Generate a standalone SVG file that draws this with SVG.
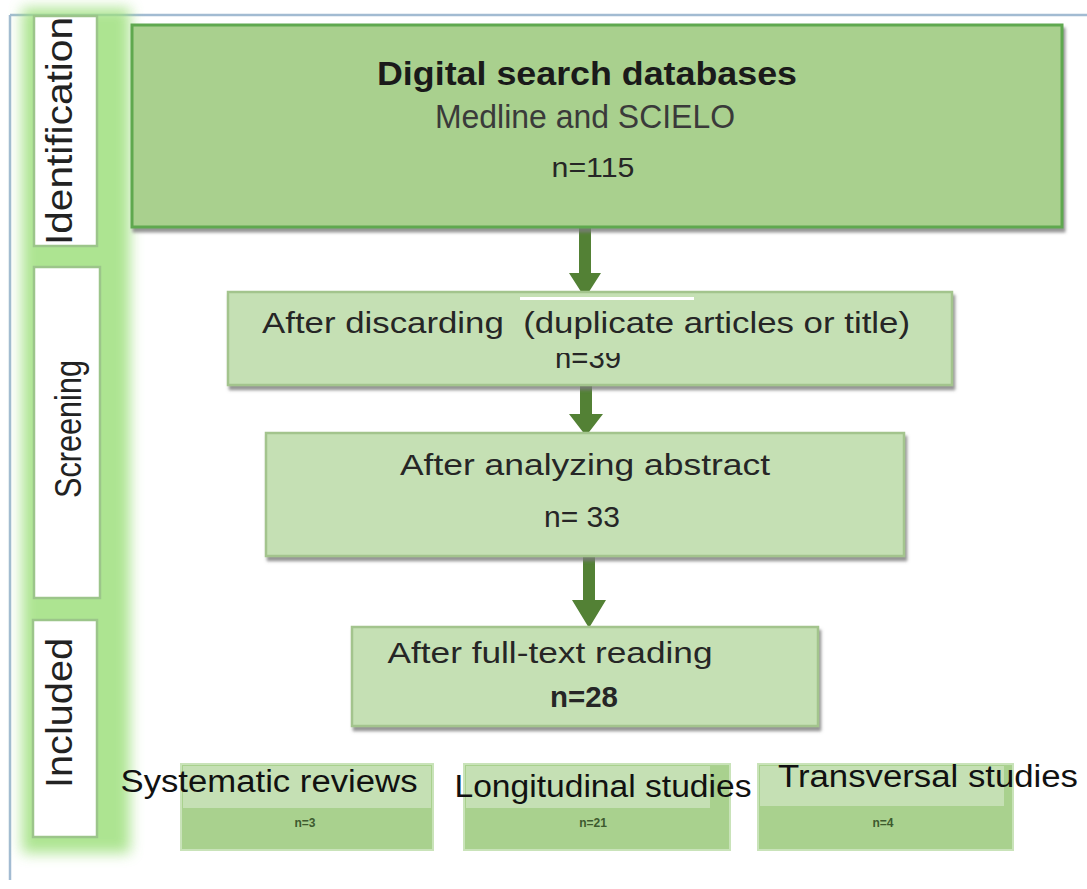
<svg xmlns="http://www.w3.org/2000/svg" width="1087" height="889" viewBox="0 0 1087 889">
<defs>
<filter id="sh" x="-5%" y="-10%" width="115%" height="130%">
<feDropShadow dx="2" dy="4" stdDeviation="1.5" flood-color="#7a7a7a" flood-opacity="0.8"/>
</filter>
<filter id="glow" x="-30%" y="-10%" width="160%" height="120%">
<feGaussianBlur stdDeviation="7"/>
</filter>
<clipPath id="clip39"><rect x="540" y="353" width="100" height="30"/></clipPath>
</defs>
<style>
text{font-family:"Liberation Sans",Arial,sans-serif;}
.side{fill:#ffffff;stroke:#9cc58a;stroke-width:2.5;}
.sideT{font-size:37px;fill:#222;text-anchor:middle;}
.main{fill:#c5e0b4;stroke:#a3c48d;stroke-width:2.5;filter:url(#sh);}
.t{font-size:29px;fill:#262626;text-anchor:middle;}
.arrow{fill:#538135;}
.sub{fill:#a9d18e;stroke:#c9e3b9;stroke-width:2;}
.band{fill:#c5e0b4;}
.st{font-size:31px;fill:#111;text-anchor:middle;}
.n{font-size:12px;fill:#3d5a2e;text-anchor:middle;font-weight:bold;}
</style>
<rect width="1087" height="889" fill="#ffffff"/>
<g id="frame">
<line x1="10" y1="15" x2="1087" y2="15" stroke="#a2bbd2" stroke-width="2.5"/>
<line x1="10" y1="15" x2="10" y2="880" stroke="#a2bbd2" stroke-width="2.5"/>
</g>
<g id="sidebar">
<rect x="22" y="8" width="108" height="845" fill="#9fe07e" filter="url(#glow)" opacity="0.85"/>
<g id="identification">
<rect class="side" x="34" y="16" width="63" height="230"/>
<text class="sideT" transform="translate(72,131) rotate(-90)" textLength="228" lengthAdjust="spacingAndGlyphs">Identification</text>
</g>
<g id="screening">
<rect class="side" x="34" y="267" width="66" height="331"/>
<text class="sideT" transform="translate(81,429) rotate(-90)" textLength="138" lengthAdjust="spacingAndGlyphs">Screening</text>
</g>
<g id="included">
<rect class="side" x="33" y="620" width="64" height="217"/>
<text class="sideT" transform="translate(72,713) rotate(-90)" textLength="150" lengthAdjust="spacingAndGlyphs">Included</text>
</g>
</g>
<g id="connectors">
<polygon class="arrow" points="579,226 591,226 591,273 601,273 585,298 569,273 579,273"/>
<polygon class="arrow" points="580,385 592,385 592,414 603,414 586,436 569,414 580,414"/>
<polygon class="arrow" points="583,556 595,556 595,600 606,600 589,628 572,600 583,600"/>
</g>
<g id="n-databases">
<rect x="132" y="25" width="930" height="202" fill="#a9d08e" stroke="#5ea84f" stroke-width="3" filter="url(#sh)"/>
<text x="587" y="85" font-size="34" font-weight="bold" fill="#1a1a1a" text-anchor="middle" textLength="420" lengthAdjust="spacingAndGlyphs">Digital search databases</text>
<text x="585" y="128" font-size="33" fill="#3a3a3a" text-anchor="middle" textLength="300" lengthAdjust="spacingAndGlyphs">Medline and SCIELO</text>
<text x="593" y="177" font-size="28" fill="#262626" text-anchor="middle" textLength="83" lengthAdjust="spacingAndGlyphs">n=115</text>
</g>
<g id="n-discarding">
<rect class="main" x="228" y="292" width="724" height="93"/>
<rect x="520" y="297" width="174" height="3" fill="#ffffff"/>
<text class="t" x="586" y="333" style="white-space:pre" xml:space="preserve" textLength="648" lengthAdjust="spacingAndGlyphs">After discarding  (duplicate articles or title)</text>
<text class="t" x="588" y="368" clip-path="url(#clip39)" textLength="66" lengthAdjust="spacingAndGlyphs">n=39</text>
</g>
<g id="n-abstract">
<rect class="main" x="266" y="433" width="638" height="123"/>
<text class="t" x="585" y="475" textLength="370" lengthAdjust="spacingAndGlyphs">After analyzing abstract</text>
<text class="t" x="582" y="527" style="white-space:pre" textLength="76" lengthAdjust="spacingAndGlyphs">n= 33</text>
</g>
<g id="n-fulltext">
<rect class="main" x="352" y="627" width="466" height="99"/>
<text class="t" x="550" y="663" textLength="325" lengthAdjust="spacingAndGlyphs">After full-text reading</text>
<text class="t" x="584" y="707" font-weight="bold" fill="#111" textLength="68" lengthAdjust="spacingAndGlyphs">n=28</text>
</g>
<g id="n-systematic">
<rect class="sub" x="181" y="764" width="252" height="86"/>
<rect class="band" x="183" y="766" width="248" height="42"/>
<text class="st" x="269" y="792" textLength="297" lengthAdjust="spacingAndGlyphs">Systematic reviews</text>
<text class="n" x="305" y="827">n=3</text>
</g>
<g id="n-longitudinal">
<rect class="sub" x="464" y="764" width="266" height="86"/>
<rect class="band" x="466" y="766" width="244" height="42"/>
<text class="st" x="603" y="797" textLength="297" lengthAdjust="spacingAndGlyphs">Longitudinal studies</text>
<text class="n" x="593" y="827">n=21</text>
</g>
<g id="n-transversal">
<rect class="sub" x="758" y="764" width="255" height="86"/>
<rect class="band" x="760" y="766" width="244" height="40"/>
<text class="st" x="928" y="787" textLength="300" lengthAdjust="spacingAndGlyphs">Transversal studies</text>
<text class="n" x="883" y="827">n=4</text>
</g>
</svg>
